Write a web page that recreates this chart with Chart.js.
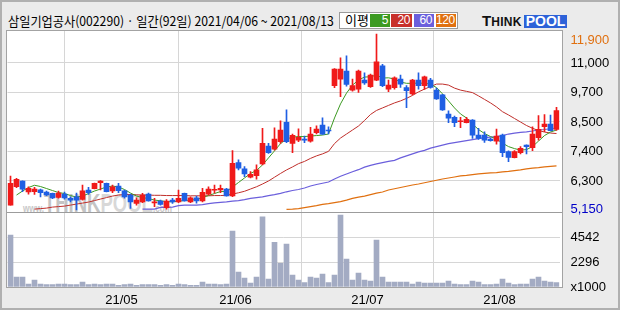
<!DOCTYPE html>
<html><head><meta charset="utf-8">
<script src="https://cdn.jsdelivr.net/npm/chart.js@4"></script>
<style>
html,body{margin:0;padding:0;}
body{width:620px;height:310px;overflow:hidden;background:#ebebeb;position:relative;font-family:"Noto Sans CJK KR",sans-serif;}
#frame{position:absolute;left:0;top:0;width:620px;height:310px;box-sizing:border-box;border:2px solid #b0b0b0;}
#plotbg{position:absolute;left:6px;top:30px;width:557px;height:258px;box-sizing:border-box;border:1px solid #a3a3a3;background:#fff;}
#wmclip{position:absolute;left:7px;top:31px;width:555px;height:181px;overflow:hidden;}
#wm{position:absolute;left:16px;top:158px;white-space:nowrap;transform-origin:0 0;transform:scaleX(0.74);font-family:"Liberation Sans",Arial,sans-serif;font-weight:bold;}
#wm .s{font-size:11px;color:#c8c8c8;}
#wm .b1{font-size:25px;color:#c4c4c4;}
#wm .b2{font-size:25px;color:#d8d8d8;}
#title{position:absolute;left:8px;top:13px;font-size:13px;line-height:15px;white-space:nowrap;transform-origin:0 0;color:#000;}
#legend{position:absolute;left:339px;top:12px;width:119px;height:17px;box-sizing:border-box;border:1px solid #9a9a9a;background:#fff;}
#legend .lt{position:absolute;left:5px;top:-1px;font-size:13px;line-height:15px;}
#legend .bx{position:absolute;top:1px;height:13px;color:#fff;font-family:"Liberation Sans",Arial,sans-serif;font-size:12px;line-height:13px;letter-spacing:-0.4px;text-align:right;box-sizing:border-box;padding-right:2px;}
#logo{position:absolute;left:482px;top:12px;white-space:nowrap;font-family:"Liberation Sans",Arial,sans-serif;font-weight:900;}
#logo .t1{font-size:15px;color:#111;}
#logo .t2{font-size:12px;color:#111;letter-spacing:0.3px;}
#logo .p{display:inline-block;background:#2d62d8;color:#fff;font-size:14px;line-height:13px;padding:0 2px 0 2px;margin-left:2px;}
canvas{position:absolute;left:0;top:0;}
</style></head>
<body>
<div id="frame"></div>
<div id="plotbg"></div>
<div id="wmclip"><div id="wm"><span class="s">www.</span><span class="b1">THINK</span><span class="b2">POOL</span><span class="s">.com</span></div></div>
<div id="title">삼일기업공사(002290) · 일간(92일) 2021/04/06 ~ 2021/08/13</div>
<div id="legend"><span class="lt">이평</span>
<div class="bx" style="left:30px;width:20px;background:#3c9a22">5</div>
<div class="bx" style="left:51px;width:21px;background:#c8302a">20</div>
<div class="bx" style="left:74px;width:20px;background:#6b5fdc">60</div>
<div class="bx" style="left:96px;width:20px;background:#e07010">120</div>
</div>
<div id="logo"><span class="t1">T</span><span class="t2">HINK</span><span class="p">POOL</span></div>
<canvas id="c" width="620" height="310"></canvas>
<script>
// ---- data ----
const dates = [
 '04/06','04/07','04/08','04/09','04/12','04/13','04/14','04/15','04/16','04/19','04/20','04/21','04/22','04/23','04/26','04/27','04/28','04/29','04/30',
 '05/03','05/04','05/06','05/07','05/10','05/11','05/12','05/13','05/14','05/17','05/18','05/20','05/21','05/24','05/25','05/26','05/27','05/28','05/31',
 '06/01','06/02','06/03','06/04','06/07','06/08','06/09','06/10','06/11','06/14','06/15','06/16','06/17','06/18','06/21','06/22','06/23','06/24','06/25','06/28','06/29','06/30',
 '07/01','07/02','07/05','07/06','07/07','07/08','07/09','07/12','07/13','07/14','07/15','07/16','07/19','07/20','07/21','07/22','07/23','07/26','07/27','07/28','07/29','07/30',
 '08/02','08/03','08/04','08/05','08/06','08/09','08/10','08/11','08/12','08/13'
];
const open = [5340,6070,6300,5860,5870,5950,5860,5810,5650,5780,
 5610,5670,5570,5940,5990,6230,6210,5900,6100,5910,
 5740,5410,5470,5780,5430,5500,5240,5540,5470,5810,
 5470,5630,5510,5780,5930,5940,5980,5710,7030,6780,
 6450,6510,6980,7690,7570,7870,8640,7800,7930,7970,
 7890,8220,8530,8330,10100,10360,10680,9920,9960,10320,
 10060,10320,10890,9960,10020,10360,10020,9770,10320,10100,
 10320,9920,9730,8970,8840,8660,8620,8730,8130,8130,
 7970,7890,8130,7470,7230,7430,7730,7630,8030,8460,
 8570,8350];
const high = [6500,6410,6310,6070,6050,5980,5900,5820,5900,5860,
 5670,5820,6140,6050,6220,6320,6220,6140,6210,5940,
 5780,5630,5810,5820,5610,5540,5560,5610,5940,5820,
 5670,5700,6010,6070,6140,6140,6010,7510,7140,6870,
 6670,6940,8400,7800,8420,8700,9130,8170,8380,8090,
 8440,8500,8820,8460,10780,11210,11290,10360,10720,10610,
 10560,12150,10950,10320,10450,10520,10100,10350,10610,10480,
 10390,10000,9750,9090,8890,8840,8840,8750,8400,8260,
 8010,8370,8170,7500,7510,7670,7740,8460,8910,8950,
 8930,9230];
const low = [5340,6030,5870,5780,5770,5670,5720,5600,5620,5580,
 5470,5150,5540,5770,5980,5940,5860,5830,5830,5620,
 5210,5340,5440,5500,5280,5340,5180,5410,5440,5500,
 5440,5420,5470,5740,5810,5830,5700,5680,6740,6470,
 6420,6370,6940,7400,7530,7800,7830,7430,7870,7830,
 7850,8170,8150,8170,10020,9660,10080,9880,9830,10150,
 10030,10300,10060,9860,9960,10030,9220,9730,9960,9950,
 10000,9550,9110,8620,8460,8420,8610,8000,7960,7840,
 7890,7770,7270,7070,7220,7380,7380,7510,7930,8260,
 8290,8310];
const close = [6210,6370,5970,6010,5980,5830,5750,5630,5820,5630,
 5540,5540,5910,5830,6210,6300,5870,6070,5910,5670,
 5470,5540,5740,5510,5470,5370,5500,5470,5610,5510,
 5630,5510,5850,5980,5970,6010,5710,7000,6810,6580,
 6570,6740,7800,7430,7970,8330,7870,8120,8040,7930,
 8170,8370,8160,8290,10760,10760,10150,10100,10680,10210,
 10520,11050,10100,10120,10410,10160,9900,10320,10100,10450,
 10030,9570,9130,8800,8620,8700,8760,8130,8000,7930,
 7910,8090,7430,7240,7470,7600,7670,8170,8360,8570,
 8300,9100];
// volume, thousands of shares
const volume = [4776,918,918,276,643,276,214,214,276,276,
 214,214,459,214,276,214,276,276,153,214,
 276,153,214,214,214,153,214,153,276,214,
 153,153,459,276,276,214,276,5143,1378,827,
 367,918,6450,735,4105,2177,3949,1102,643,395,
 918,827,1194,395,1102,6612,2572,643,1286,643,
 551,4316,918,459,459,459,459,276,459,367,
 367,367,367,551,276,214,214,551,459,214,
 214,276,735,367,214,276,276,735,918,551,
 459,395];
const ma5 = [null,5740,5900,6040,6130,6080,6000,5920,5840,5800,
 5720,5660,5700,5800,5900,5980,6060,6100,6060,5960,
 5820,5700,5640,5600,5540,5510,5480,5470,5500,5520,
 5540,5560,5640,5720,5800,5880,5880,6060,6240,6420,
 6600,6720,6940,7220,7500,7790,7970,8050,8070,8070,
 8090,8110,8130,8170,8810,9370,9800,10120,10320,10440,
 10450,10520,10400,10410,10360,10240,10190,10190,10200,10190,
 10160,10020,9770,9490,9210,8970,8810,8570,8350,8190,
 8070,7970,7810,7670,7590,7530,7550,7670,7890,8110,
 8250,8330];
const ma20 = [null,null,null,null,5180,5200,5220,5260,5280,5300,
 5340,5380,5420,5460,5520,5580,5640,5700,5740,5760,
 5760,5750,5740,5740,5730,5730,5720,5720,5720,5720,
 5710,5710,5710,5710,5720,5720,5730,5780,5830,5890,
 5980,6070,6180,6300,6450,6600,6740,6860,6990,7080,
 7200,7300,7380,7480,7790,8010,8170,8330,8490,8710,
 8950,9110,9210,9310,9410,9490,9590,9710,9850,9960,
 10060,10160,10160,10120,10000,9920,9870,9820,9690,9550,
 9410,9250,9060,8930,8790,8650,8510,8400,8310,8250,
 8210,8190];
const ma60 = [null,null,null,null,null,null,null,null,null,null,
 null,null,null,null,null,null,null,null,null,null,
 null,null,5180,5180,5180,5250,5250,5260,5320,5340,
 5340,5340,5360,5400,5430,5450,5470,5500,5520,5560,
 5610,5640,5670,5720,5760,5810,5870,5920,5960,6020,
 6100,6160,6210,6260,6380,6490,6580,6670,6750,6850,
 6920,6980,7030,7080,7120,7220,7300,7380,7460,7520,
 7610,7670,7730,7790,7830,7870,7910,7950,7990,8030,
 8050,8070,8110,8170,8210,8240,8260,8290,8330,8350,
 8380,8410];
const ma120 = [null,null,null,null,null,null,null,null,null,null,
 null,null,null,null,null,null,null,null,null,null,
 null,null,null,null,null,null,null,null,null,null,
 null,null,null,null,null,null,null,null,null,null,
 null,null,null,null,null,null,5170,5180,5200,5240,
 5280,5320,5370,5400,5440,5480,5540,5610,5660,5700,
 5760,5820,5860,5940,5990,6040,6090,6140,6180,6230,
 6280,6330,6380,6420,6460,6500,6520,6550,6580,6600,
 6620,6630,6660,6680,6710,6740,6780,6810,6830,6860,
 6880,6900];
const priceTickLabels = ['11,000','9,700','8,500','7,400','6,300'];
const priceMaxLabel = {value:11900, text:'11,900'};
const priceMinLabel = {value:5150, text:'5,150'};
const volumeTicks = [2296, 4542];
const volumeUnitLabel = 'x1000';

// ---- styles ----
const RED='#f01a1a', BLUE='#1f5fe3';
const C5='#3c9a22', C20='#bf2e2a', C60='#6b5fdc', C120='#e07010';
const VOLC='#a3abc3', GRID='#d6d6d6';
const AXFONT = {family:'"Liberation Sans Narrow","Liberation Sans",Arial,sans-serif', size:13};

// title width fit
const t = document.getElementById('title');
t.style.transform = 'scaleX(' + (326 / t.scrollWidth) + ')';

const idx = dates.map((_, i) => i);
const candleColor = idx.map(i => close[i] >= open[i] ? RED : BLUE);
const pts = arr => idx.map(i => ({x: i, y: arr[i]}));

// month boundary ticks
const monthTicks = [];
for (let i = 1; i < dates.length; i++) {
  if (dates[i].slice(0, 2) !== dates[i - 1].slice(0, 2)) monthTicks.push({value: i - 0.5, label: '21/' + dates[i].slice(0, 2)});
}
// price grid: evenly spaced lines labeled with the chart's tick labels
const pTop = 11000, pBot = 6300;
const priceTicks = [{value: priceMaxLabel.value, label: priceMaxLabel.text, color: '#e07010', grid: false}];
priceTickLabels.forEach((lab, k) => priceTicks.push({value: pTop - (pTop - pBot) * k / (priceTickLabels.length - 1), label: lab, color: '#000', grid: true}));
priceTicks.push({value: priceMinLabel.value, label: priceMinLabel.text, color: '#0000c8', grid: false});
const volTickList = [{value: 0, label: volumeUnitLabel, grid: false}].concat(volumeTicks.map(v => ({value: v, label: String(v), grid: true})));

const sepPlugin = {
  id: 'sep',
  afterDraw(chart) {
    const ctx = chart.ctx, y = chart.scales.y.bottom;
    ctx.save();
    ctx.fillStyle = '#9c9c9c';
    ctx.fillRect(7, Math.round(y), 555, 1);
    ctx.restore();
  }
};

new Chart(document.getElementById('c'), {
  type: 'bar',
  data: {
    datasets: [
      {type:'bar', data: idx.map(i => ({x:i, y:[open[i], close[i]]})), backgroundColor: candleColor, barThickness:5, grouped:false, yAxisID:'y', order:0},
      {type:'bar', data: idx.map(i => ({x:i, y:[low[i], high[i]]})), backgroundColor: candleColor, barThickness:1, grouped:false, yAxisID:'y', order:1},
      {type:'line', data: pts(ma5), borderColor:C5, borderWidth:1, pointRadius:0, yAxisID:'y', order:2},
      {type:'line', data: pts(ma20), borderColor:C20, borderWidth:1, pointRadius:0, yAxisID:'y', order:3},
      {type:'line', data: pts(ma60), borderColor:C60, borderWidth:1.2, pointRadius:0, yAxisID:'y', order:4},
      {type:'line', data: pts(ma120), borderColor:C120, borderWidth:1.2, pointRadius:0, yAxisID:'y', order:5},
      {type:'bar', data: pts(volume), backgroundColor: VOLC, barThickness:5, grouped:false, yAxisID:'yv', order:6}
    ]
  },
  options: {
    responsive:false, animation:false, devicePixelRatio:1,
    layout:{padding:{left:7.5, top:31, right:0, bottom:0}},
    plugins:{legend:{display:false}, tooltip:{enabled:false}},
    scales:{
      x:{type:'linear', min:-0.5, max:91.5, offset:false,
        afterBuildTicks: s => { s.ticks = monthTicks.map(m => ({value: m.value})); },
        afterFit: s => { s.height = 23; },
        ticks:{autoSkip:false, maxRotation:0, padding:6, color:'#000', font:AXFONT, callback:(v, i) => monthTicks[i] ? monthTicks[i].label : ''},
        grid:{color:GRID, drawTicks:false, lineWidth:1},
        border:{display:false}},
      y:{type:'linear', position:'right', stack:'main', stackWeight:181, min:5065, max:12274,
        afterBuildTicks: s => { s.ticks = priceTicks.map(p => ({value: p.value})); },
        afterFit: s => { s.width = 60.5; },
        ticks:{autoSkip:false, padding:11, font:AXFONT,
          color: c => priceTicks[c.index] ? priceTicks[c.index].color : '#000',
          callback:(v, i) => priceTicks[i] ? priceTicks[i].label : ''},
        grid:{drawTicks:false, lineWidth:1, color: c => (priceTicks[c.index] && priceTicks[c.index].grid) ? GRID : 'rgba(0,0,0,0)'},
        border:{display:false}},
      yv:{type:'linear', position:'right', stack:'main', stackWeight:75, min:0, max:6888,
        afterBuildTicks: s => { s.ticks = volTickList.map(p => ({value: p.value})); },
        afterFit: s => { s.width = 60.5; },
        ticks:{autoSkip:false, padding:11, color:'#000', font:AXFONT,
          callback:(v, i) => volTickList[i] ? volTickList[i].label : ''},
        grid:{drawTicks:false, lineWidth:1, color: c => (volTickList[c.index] && volTickList[c.index].grid) ? GRID : 'rgba(0,0,0,0)'},
        border:{display:false}}
    }
  },
  plugins:[sepPlugin]
});
</script>
</body></html>
